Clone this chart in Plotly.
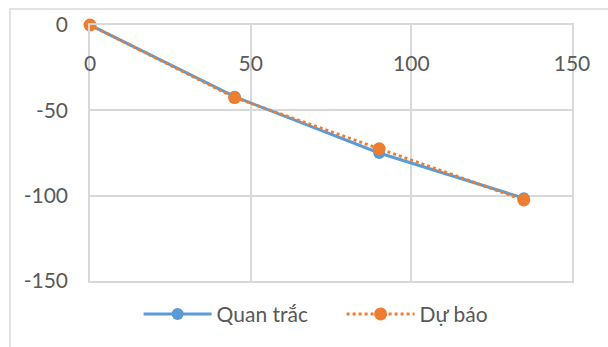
import plotly.graph_objects as go

# Khoảng cách (m) và giá trị lún (mm)
distance = [0, 45, 90, 135]
observed = [0, -42, -75, -101.5]
forecast = [0, -42.5, -72.5, -102.5]

x_ticks = [0, 50, 100, 150]
y_ticks = [0, -50, -100, -150]
y_tick_text = ["0", "-50", "-100", "-150"]

font_family = "Lato, 'Open Sans', sans-serif"
grid = "#d9d9d9"
text_col = "#595959"

fig = go.Figure()
fig.add_trace(go.Scatter(
    x=distance, y=observed, name="Quan trắc", mode="lines+markers",
    line=dict(color="#5B9BD5", width=3),
    marker=dict(color="#5B9BD5", size=12),
    cliponaxis=False,
))
fig.add_trace(go.Scatter(
    x=distance, y=forecast, name="Dự báo", mode="lines+markers",
    line=dict(color="#ED7D31", width=3, dash="dot"),
    marker=dict(color="#ED7D31", size=13),
    cliponaxis=False,
))

fig.update_layout(
    width=608, height=347,
    margin=dict(l=90, r=36, t=25, b=66),
    paper_bgcolor="white", plot_bgcolor="white",
    font=dict(family=font_family, size=21, color=text_col),
    showlegend=True,
    legend=dict(
        orientation="h", x=0.522, xanchor="center", y=-0.13, yanchor="middle",
        itemwidth=68, entrywidth=120, font=dict(size=21, color=text_col),
        bgcolor="rgba(0,0,0,0)",
    ),
    xaxis=dict(
        range=[0, 150], tickvals=x_ticks, side="top",
        ticklabelposition="outside", ticklabelstandoff=-56,
        showgrid=True, gridcolor=grid, gridwidth=1.5,
        showline=True, mirror=True, linecolor=grid, linewidth=1.5,
        zeroline=False, ticks="",
    ),
    yaxis=dict(
        range=[-150, 0], tickvals=y_ticks, ticktext=y_tick_text,
        showgrid=True, gridcolor=grid, gridwidth=1.5,
        showline=True, mirror=True, linecolor=grid, linewidth=1.5,
        zeroline=False, ticks="",
        ticklabelstandoff=16,
    ),
    shapes=[dict(
        type="rect", xref="paper", yref="paper",
        x0=-80 / 482, x1=1.2, y0=-0.5, y1=1 + 16 / 256,
        line=dict(color="#d9d9d9", width=1.5), layer="below",
    )],
)

fig.write_html("out.html")
